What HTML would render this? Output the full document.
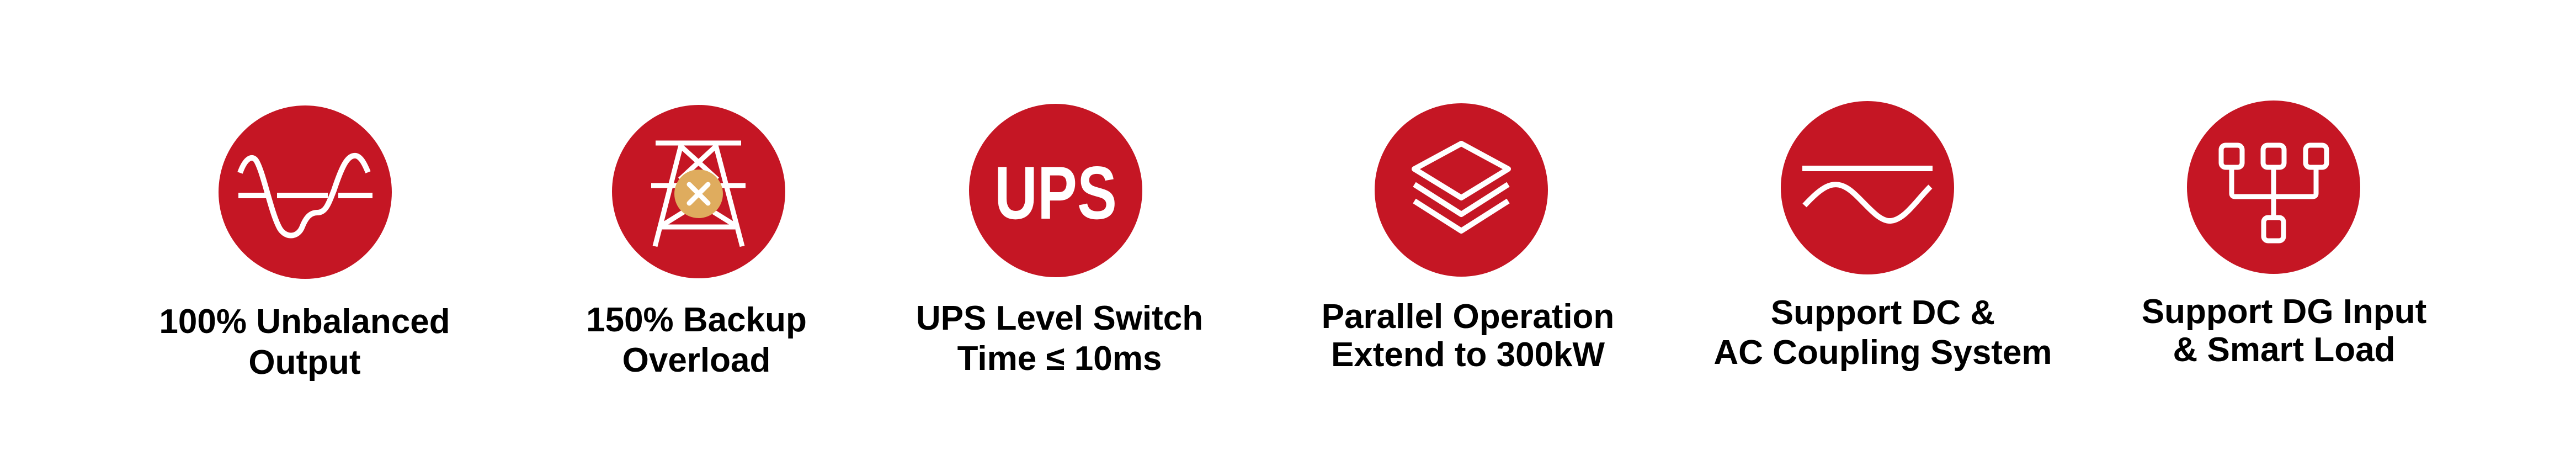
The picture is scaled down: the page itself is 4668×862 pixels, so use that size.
<!DOCTYPE html>
<html><head><meta charset="utf-8"><style>
html,body{margin:0;padding:0;background:#fff;}
body{width:4668px;height:862px;overflow:hidden;position:relative;}
svg{position:absolute;left:0;top:0;}
</style></head><body>
<svg width="4668" height="862" viewBox="0 0 4668 862" xmlns="http://www.w3.org/2000/svg">
<g fill="#c51624">
<circle cx="553" cy="348" r="157"/>
<circle cx="1266" cy="347" r="157"/>
<circle cx="1913" cy="345" r="157"/>
<circle cx="2648" cy="344" r="157"/>
<circle cx="3384" cy="340" r="157"/>
<circle cx="4120" cy="339" r="157"/>
</g>
<!-- icon 1 -->
<g stroke="#fff" stroke-width="10" fill="none">
<line x1="432" y1="354" x2="484" y2="354"/><line x1="502" y1="354" x2="594" y2="354"/><line x1="613" y1="354" x2="675" y2="354"/>
<path d="M435 313 C445 285 458 280 465 292 C478 315 490 380 505 410 C515 432 540 432 548 410 C556 390 565 385 575 385 C590 385 595 370 605 345 C620 300 630 280 645 282 C655 284 662 300 667 312"/>
</g>
<!-- icon 2 tower -->
<g stroke="#fff" stroke-width="9" fill="none">
<line x1="1188" y1="259" x2="1343" y2="259"/>
<line x1="1234" y1="263" x2="1187" y2="446"/>
<line x1="1297" y1="263" x2="1345" y2="446"/>
<line x1="1180" y1="336" x2="1351" y2="336"/>
<line x1="1198" y1="411" x2="1332" y2="411"/>
<line x1="1234" y1="265" x2="1300" y2="325"/>
<line x1="1297" y1="265" x2="1232" y2="325"/>
<line x1="1200" y1="408" x2="1245" y2="380"/>
<line x1="1332" y1="408" x2="1287" y2="380"/>
</g>
<circle cx="1266" cy="351" r="44" fill="#dfac5e"/>
<g stroke="#fff" stroke-width="9" stroke-linecap="round"><line x1="1249" y1="334" x2="1283" y2="368"/><line x1="1283" y1="334" x2="1249" y2="368"/></g>
<!-- icon 3 -->
<text x="1913" y="396" text-anchor="middle" font-family="Liberation Sans, sans-serif" font-weight="bold" font-size="136" fill="#fff" textLength="222" lengthAdjust="spacingAndGlyphs">UPS</text>
<!-- icon 4 -->
<g stroke="#fff" stroke-width="10" fill="none" stroke-linejoin="round">
<path d="M2648 260 L2733 306 L2648 358 L2563 306 Z"/>
<path d="M2563 334 L2648 388 L2733 334"/>
<path d="M2563 364 L2648 418 L2733 364"/>
</g>
<!-- icon 5 -->
<g stroke="#fff" stroke-width="10" fill="none">
<line x1="3266" y1="305" x2="3502" y2="305"/>
<path d="M3270 372 C3300 340 3320 325 3346 340 C3372 355 3400 402 3426 400 C3452 398 3475 360 3498 338"/>
</g>
<!-- icon 6 -->
<g stroke="#fff" stroke-width="9" fill="none">
<rect x="4025" y="263" width="38" height="40" rx="8"/>
<rect x="4101" y="263" width="38" height="40" rx="8"/>
<rect x="4178" y="263" width="38" height="40" rx="8"/>
<rect x="4102" y="394" width="36" height="42" rx="8"/>
<path d="M4044 303 V350 Q4044 356 4050 356 H4191 Q4197 356 4197 350 V303"/>
<line x1="4120" y1="303" x2="4120" y2="394"/>
</g>
<g font-family="Liberation Sans, Arial, sans-serif" font-weight="bold" font-size="62" fill="#000" text-anchor="middle">
<text x="552" y="603">100% Unbalanced</text><text x="552" y="677">Output</text>
<text x="1262" y="600">150% Backup</text><text x="1262" y="673">Overload</text>
<text x="1920" y="597">UPS Level Switch</text><text x="1920" y="670">Time ≤ 10ms</text>
<text x="2660" y="594">Parallel Operation</text><text x="2660" y="663">Extend to 300kW</text>
<text x="3412" y="587">Support DC &amp;</text><text x="3412" y="659">AC Coupling System</text>
<text x="4139" y="585">Support DG Input</text><text x="4139" y="654">&amp; Smart Load</text>
</g>
</svg>
</body></html>
